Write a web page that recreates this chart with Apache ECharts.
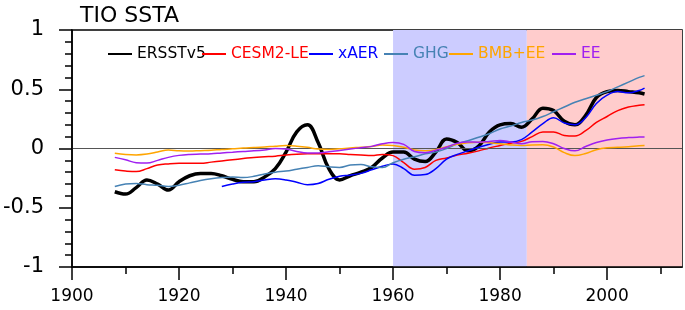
<!DOCTYPE html>
<html>
<head>
<meta charset="utf-8">
<script src="https://cdn.jsdelivr.net/npm/echarts@6/dist/echarts.min.js"></script>
<style>
  html, body { margin: 0; padding: 0; background: #fff; }
  #chart { width: 685px; height: 310px; }
</style>
</head>
<body>
<div id="chart"></div>
<script>
// years sampled every 2 years, plus the last year
var years = [1908, 1910, 1912, 1914, 1916, 1918, 1920, 1922, 1924, 1926,
    1928, 1930, 1932, 1934, 1936, 1938, 1940, 1942, 1944, 1946,
    1948, 1950, 1952, 1954, 1956, 1958, 1960, 1962, 1964, 1966,
    1968, 1970, 1972, 1974, 1976, 1978, 1980, 1982, 1984, 1986,
    1988, 1990, 1992, 1994, 1996, 1998, 2000, 2002, 2004, 2006, 2007];

var ersst = [-0.365, -0.385, -0.33, -0.265, -0.30, -0.35, -0.28, -0.23, -0.21, -0.21,
    -0.23, -0.26, -0.28, -0.28, -0.24, -0.17, -0.03, 0.14, 0.20, 0.05,
    -0.17, -0.265, -0.23, -0.20, -0.16, -0.08, -0.03, -0.03, -0.09, -0.11,
    -0.03, 0.08, 0.05, -0.02, 0.02, 0.14, 0.20, 0.21, 0.18, 0.25,
    0.34, 0.32, 0.23, 0.20, 0.28, 0.43, 0.48, 0.49, 0.48, 0.47, 0.46];

var cesm2 = [-0.18, -0.19, -0.195, -0.17, -0.14, -0.13, -0.125, -0.125, -0.125, -0.115,
    -0.105, -0.095, -0.085, -0.075, -0.07, -0.065, -0.055, -0.048, -0.045, -0.045,
    -0.045, -0.045, -0.05, -0.055, -0.06, -0.05, -0.06, -0.12, -0.175, -0.16,
    -0.10, -0.08, -0.055, -0.04, -0.02, 0.005, 0.025, 0.045, 0.06, 0.10,
    0.14, 0.14, 0.11, 0.105, 0.15, 0.22, 0.27, 0.32, 0.35, 0.365, 0.37];

var xaer = [null, null, null, null, null, null, null, null, null, null,
    -0.32, -0.30, -0.285, -0.28, -0.265, -0.255, -0.265, -0.285, -0.305, -0.295,
    -0.26, -0.235, -0.225, -0.21, -0.18, -0.15, -0.13, -0.17, -0.225, -0.22,
    -0.17, -0.09, -0.05, -0.02, 0.01, 0.035, 0.055, 0.055, 0.075, 0.14,
    0.21, 0.26, 0.215, 0.20, 0.26, 0.38, 0.45, 0.48, 0.47, 0.49, 0.51];

var ghg = [-0.32, -0.30, -0.295, -0.305, -0.31, -0.32, -0.31, -0.29, -0.27, -0.255,
    -0.245, -0.24, -0.245, -0.235, -0.215, -0.20, -0.19, -0.175, -0.16, -0.145,
    -0.155, -0.16, -0.14, -0.135, -0.155, -0.16, -0.12, -0.09, -0.07, -0.045,
    -0.03, 0.0, 0.04, 0.065, 0.095, 0.125, 0.165, 0.19, 0.22, 0.24,
    0.27, 0.31, 0.35, 0.39, 0.42, 0.45, 0.48, 0.52, 0.56, 0.60, 0.615];

var bmbee = [-0.04, -0.05, -0.054, -0.047, -0.03, -0.012, -0.02, -0.022, -0.018, -0.015,
    -0.008, -0.003, 0.004, 0.008, 0.013, 0.02, 0.025, 0.02, 0.01, -0.005,
    -0.008, -0.003, 0.005, 0.01, 0.017, 0.03, 0.025, 0.01, -0.012, -0.018,
    -0.01, 0.015, 0.035, 0.048, 0.053, 0.048, 0.04, 0.03, 0.025, 0.03,
    0.032, 0.012, -0.035, -0.06, -0.042, -0.01, 0.006, 0.01, 0.015, 0.023, 0.025];

var ee = [-0.075, -0.095, -0.12, -0.123, -0.10, -0.075, -0.058, -0.05, -0.047, -0.044,
    -0.037, -0.031, -0.025, -0.02, -0.012, 0.0, -0.005, -0.025, -0.038, -0.037,
    -0.028, -0.017, -0.005, 0.007, 0.018, 0.04, 0.05, 0.035, -0.025, -0.035,
    -0.015, 0.011, 0.045, 0.055, 0.053, 0.06, 0.068, 0.055, 0.04, 0.058,
    0.06, 0.04, 0.0, -0.02, 0.017, 0.05, 0.072, 0.085, 0.092, 0.096, 0.097];

var majorTicks = [1900, 1920, 1940, 1960, 1980, 2000];
var minorTicks = [1910, 1930, 1950, 1970, 1990, 2010];
var periodBlue = [1960, 1985];
var periodRed = [1985, 2014];

var FONT = 'DejaVu Sans';

function pairs(vals) {
    return years.map(function (y, i) { return [y, vals[i]]; });
}

var seriesDefs = [
    { name: 'ERSSTv5', data: ersst, color: '#000000', width: 3.5, left: 108 },
    { name: 'CESM2-LE', data: cesm2, color: '#ff0000', width: 1.5, left: 202 },
    { name: 'xAER', data: xaer, color: '#0000ff', width: 1.5, left: 309 },
    { name: 'GHG', data: ghg, color: '#4682b4', width: 1.5, left: 384 },
    { name: 'BMB+EE', data: bmbee, color: '#ffa500', width: 1.5, left: 449 },
    { name: 'EE', data: ee, color: '#a020f0', width: 1.5, left: 552 }
];

var legends = seriesDefs.map(function (s) {
    return {
        data: [s.name], left: s.left, top: 46, padding: 0,
        icon: 'rect', itemWidth: 24, itemHeight: 2,
        textStyle: { color: s.color, fontFamily: FONT, fontSize: 15.5 },
        selectedMode: false
    };
});

var series = [{
    type: 'line', name: '_bg', data: [], z: 1, silent: true,
    markArea: {
        silent: true,
        data: [
            [{ xAxis: periodBlue[0], itemStyle: { color: '#ccccff' } }, { xAxis: periodBlue[1] }],
            [{ xAxis: periodRed[0], itemStyle: { color: '#ffcccc' } }, { xAxis: periodRed[1] }]
        ]
    },
    markLine: {
        silent: true, symbol: 'none', label: { show: false },
        lineStyle: { color: '#555', width: 1, type: 'solid' },
        data: [{ yAxis: 0 }]
    }
}];
seriesDefs.forEach(function (s, i) {
    series.push({
        type: 'line', name: s.name, data: pairs(s.data), z: 3 + i,
        smooth: 0.4, showSymbol: false, connectNulls: false,
        color: s.color, lineStyle: { color: s.color, width: s.width }
    });
});

var chart = echarts.init(document.getElementById('chart'));
chart.setOption({
    animation: false,
    backgroundColor: '#fff',
    title: { text: 'TIO SSTA', left: 75, top: 0, textStyle: { fontFamily: FONT, fontSize: 22, fontWeight: 'normal', color: '#000' } },
    legend: legends,
    grid: { left: 72, right: 3, top: 30, bottom: 43, show: true, borderColor: '#000', borderWidth: 1.5, backgroundColor: 'transparent' },
    xAxis: [{
        type: 'value', min: 1900, max: 2014, z: 10, position: 'bottom',
        axisLine: { onZero: false, lineStyle: { color: '#000', width: 1.5 } },
        axisTick: { inside: false, customValues: majorTicks, length: 13, lineStyle: { color: '#000', width: 1.5 } },
        axisLabel: { customValues: majorTicks, margin: 21, color: '#000', fontFamily: FONT, fontSize: 17,
            formatter: function (v) { return String(v); } },
        splitLine: { show: false }
    }, {
        type: 'value', min: 1900, max: 2014, position: 'bottom', z: 10,
        axisLine: { show: false, onZero: false },
        axisTick: { inside: false, customValues: minorTicks, length: 7, lineStyle: { color: '#000', width: 1.5 } },
        axisLabel: { show: false },
        splitLine: { show: false }
    }],
    yAxis: {
        type: 'value', min: -1, max: 1, interval: 0.5, z: 10,
        axisLine: { show: true, onZero: false, lineStyle: { color: '#000', width: 1.5 } },
        axisTick: { show: true, length: 13, lineStyle: { color: '#000', width: 1.5 } },
        minorTick: { show: true, splitNumber: 5, length: 7, lineStyle: { color: '#000', width: 1.5 } },
        axisLabel: { margin: 28, color: '#000', fontFamily: FONT, fontSize: 21 },
        splitLine: { show: false }
    },
    series: series
});
</script>
</body>
</html>
